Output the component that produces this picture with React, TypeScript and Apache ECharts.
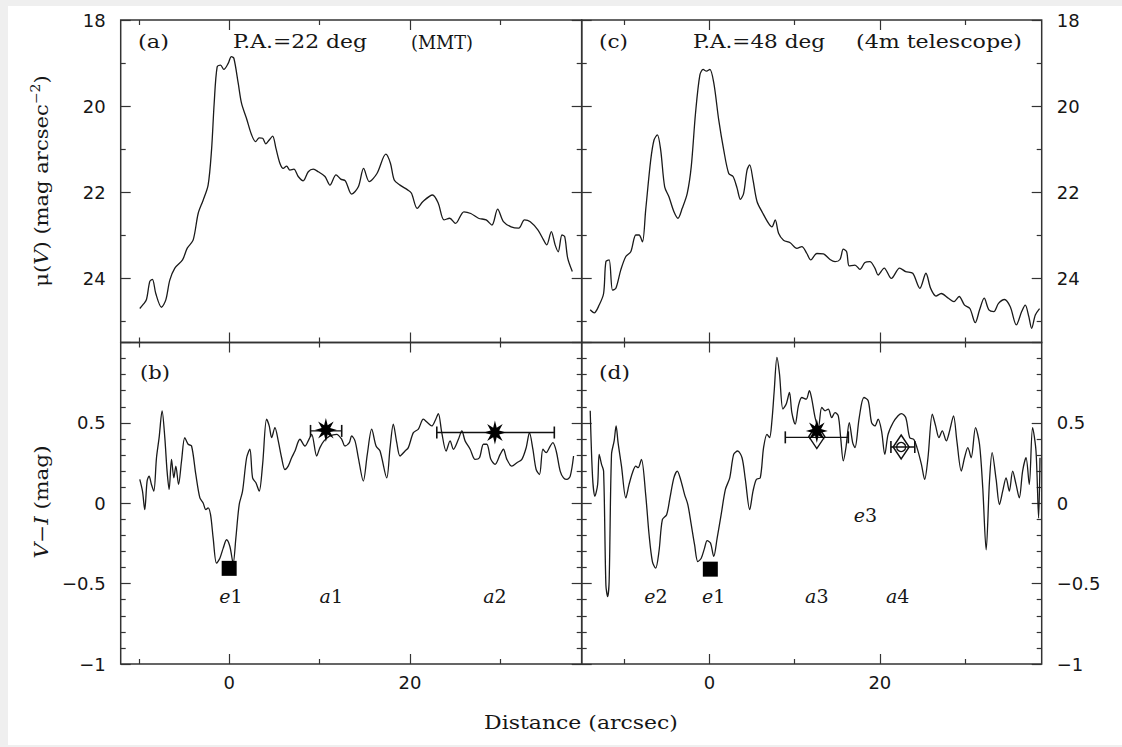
import React, { useEffect, useRef } from "react";
import * as echarts from "echarts";

// ---------- axis ranges & ticks ----------
const xRangeLeft = [-12, 39];
const xRangeRight = [-15, 39];
const muRange = [18, 25.5];
const colorRange = [-1, 1];

const xMajorTicks = [0, 20];
const xMinorTicks = [-10, 10, 30];
const muMajorTicks = [18, 20, 22, 24];
const muMinorTicks = [19, 21, 23, 25];
const colorMajorTicks = [-1, -0.5, 0, 0.5, 1];
const colorLabelTicks = [-1, -0.5, 0, 0.5];
const colorMinorTicks = [-0.9, -0.8, -0.7, -0.6, -0.4, -0.3, -0.2, -0.1, 0.1, 0.2, 0.3, 0.4, 0.6, 0.7, 0.8, 0.9];

// ---------- (a) surface brightness, P.A.=22 deg (MMT) ----------
const profileA: [number, number][] = [
  [-9.89, 24.71], [-9.49, 24.61], [-9.15, 24.5], [-8.78, 24.08], [-8.49, 24.03], [-8.12, 24.36], [-7.49, 24.68],
  [-7.01, 24.51], [-6.57, 24.05], [-6.01, 23.77], [-5.16, 23.58], [-4.65, 23.31], [-3.99, 23.12], [-3.43, 22.5],
  [-2.88, 22.19], [-2.33, 21.84], [-1.95, 21.02], [-1.66, 19.94], [-1.33, 19.09], [-0.95, 19.05], [-0.59, 19.15],
  [-0.11, 19.01], [0.24, 18.85], [0.52, 18.89], [1.0, 19.47], [1.37, 19.94], [1.92, 20.29], [2.48, 20.67],
  [2.92, 20.83], [3.32, 20.74], [3.7, 20.75], [4.06, 20.88], [4.43, 20.79], [4.81, 20.7], [5.17, 20.98],
  [5.61, 21.33], [5.98, 21.45], [6.36, 21.4], [6.72, 21.49], [7.16, 21.47], [7.64, 21.64], [8.19, 21.74],
  [8.75, 21.53], [9.3, 21.47], [9.86, 21.53], [10.6, 21.64], [11.15, 21.84], [11.82, 21.6], [12.34, 21.7],
  [12.85, 21.74], [13.55, 22.05], [14.29, 21.88], [14.87, 21.45], [15.5, 21.76], [16.35, 21.57], [17.33, 21.12],
  [17.84, 21.33], [18.26, 21.72], [18.9, 21.84], [19.74, 21.95], [20.17, 22.03], [20.8, 22.38], [21.44, 22.22],
  [22.5, 22.07], [23.13, 22.26], [23.77, 22.65], [24.4, 22.61], [25.04, 22.73], [25.97, 22.46], [26.73, 22.5],
  [27.58, 22.61], [28.43, 22.65], [29.07, 22.77], [29.7, 22.4], [30.34, 22.69], [31.19, 22.81], [32.03, 22.84],
  [32.67, 22.65], [33.31, 22.69], [34.15, 22.88], [34.79, 23.12], [35.13, 23.23], [35.64, 22.92], [36.06, 23.23],
  [36.4, 23.39], [36.82, 23.0], [37.12, 23.04], [37.45, 23.54], [37.96, 23.85],
];

// ---------- (c) surface brightness, P.A.=48 deg (4m telescope) ----------
const profileC: [number, number][] = [
  [-14.0, 24.74], [-13.53, 24.81], [-12.95, 24.63], [-12.43, 24.36], [-12.16, 23.62], [-11.78, 23.58], [-11.38, 24.28],
  [-10.99, 24.24], [-10.41, 23.81], [-9.82, 23.5], [-9.24, 23.39], [-8.65, 23.0], [-8.27, 23.0], [-7.87, 23.16],
  [-7.49, 22.42], [-6.9, 21.26], [-6.51, 20.79], [-6.12, 20.67], [-5.73, 21.02], [-5.26, 21.88], [-4.76, 22.11],
  [-4.17, 22.46], [-3.7, 22.61], [-3.2, 22.38], [-2.61, 22.03], [-2.14, 21.41], [-1.64, 20.17], [-1.13, 19.28],
  [-0.74, 19.15], [-0.35, 19.19], [0.04, 19.15], [0.51, 19.47], [1.09, 20.33], [1.67, 21.02], [2.26, 21.57],
  [2.77, 21.64], [3.24, 21.91], [3.63, 22.17], [4.01, 22.03], [4.41, 21.49], [4.72, 21.37], [5.11, 21.72],
  [5.58, 22.22], [6.28, 22.5], [6.94, 22.73], [7.33, 22.81], [7.72, 22.65], [8.11, 22.96], [8.69, 23.12],
  [9.47, 23.18], [10.26, 23.31], [10.84, 23.27], [11.43, 23.43], [11.89, 23.58], [12.6, 23.43], [13.37, 23.44],
  [14.15, 23.57], [14.74, 23.62], [15.32, 23.57], [15.71, 23.33], [16.1, 23.39], [16.41, 23.72], [17.08, 23.7],
  [17.66, 23.8], [18.25, 23.64], [18.83, 23.62], [19.42, 23.77], [19.8, 23.93], [20.51, 23.77], [21.35, 24.01],
  [22.32, 23.77], [23.03, 23.85], [23.86, 23.89], [24.7, 24.24], [25.41, 23.89], [25.96, 24.24], [26.59, 24.42],
  [27.21, 24.36], [28.05, 24.47], [28.69, 24.55], [29.31, 24.43], [29.94, 24.63], [30.57, 24.71], [31.2, 25.04],
  [31.71, 24.74], [32.25, 24.47], [32.8, 24.74], [33.38, 24.78], [33.93, 24.59], [34.64, 24.5], [35.31, 24.67],
  [36.02, 25.09], [36.65, 24.78], [37.07, 24.63], [37.49, 24.9], [37.82, 25.17], [38.25, 24.86], [38.75, 24.71],
];

// ---------- (b) V-I colour, P.A.=22 deg ----------
const colorB: [number, number][] = [
  [-9.89, 0.148], [-9.59, 0.075], [-9.34, -0.04], [-9.08, 0.138], [-8.86, 0.169], [-8.6, 0.117], [-8.34, 0.075],
  [-8.04, 0.283], [-7.75, 0.408], [-7.42, 0.575], [-7.12, 0.408], [-6.87, 0.2], [-6.64, 0.086], [-6.38, 0.273],
  [-6.12, 0.158], [-5.9, 0.231], [-5.6, 0.117], [-5.27, 0.263], [-4.91, 0.408], [-4.54, 0.367], [-4.16, 0.356],
  [-3.69, 0.179], [-3.24, 0.033], [-2.88, 0.002], [-2.58, -0.04], [-2.33, -0.029], [-2.06, -0.071], [-1.77, -0.217],
  [-1.4, -0.373], [-1.03, -0.342], [-0.66, -0.279], [-0.29, -0.227], [0.08, -0.269], [0.44, -0.373], [0.74, -0.217],
  [1.11, -0.008], [1.48, 0.075], [1.93, 0.283], [2.29, 0.336], [2.59, 0.158], [2.96, 0.127], [3.32, 0.075],
  [3.7, 0.242], [4.14, 0.523], [4.43, 0.481], [4.7, 0.408], [5.06, 0.471], [5.43, 0.388], [5.8, 0.283],
  [6.17, 0.21], [6.53, 0.231], [6.91, 0.283], [7.28, 0.325], [7.83, 0.398], [8.38, 0.356], [8.75, 0.388],
  [9.13, 0.429], [9.68, 0.294], [10.04, 0.346], [10.49, 0.388], [11.15, 0.419], [11.89, 0.429], [12.45, 0.398],
  [12.81, 0.356], [13.29, 0.377], [13.55, 0.419], [13.92, 0.388], [14.29, 0.283], [14.84, 0.138], [15.28, 0.304],
  [15.77, 0.461], [16.25, 0.356], [16.69, 0.325], [17.43, 0.158], [17.8, 0.346], [18.16, 0.492], [18.54, 0.377],
  [18.9, 0.294], [19.46, 0.325], [19.82, 0.346], [20.38, 0.439], [20.93, 0.461], [21.48, 0.523], [21.93, 0.502],
  [22.41, 0.481], [22.78, 0.513], [23.14, 0.558], [23.52, 0.439], [24.0, 0.325], [24.44, 0.388], [24.81, 0.336],
  [25.36, 0.398], [25.74, 0.45], [26.1, 0.388], [26.66, 0.336], [27.21, 0.273], [27.69, 0.283], [28.13, 0.367],
  [28.5, 0.367], [28.95, 0.273], [29.42, 0.242], [29.98, 0.304], [30.34, 0.336], [30.72, 0.273], [31.27, 0.231],
  [31.83, 0.252], [32.38, 0.273], [32.86, 0.346], [33.22, 0.439], [33.6, 0.336], [33.96, 0.21], [34.33, 0.179],
  [34.71, 0.336], [35.07, 0.315], [35.52, 0.356], [35.81, 0.377], [36.18, 0.325], [36.62, 0.2], [36.99, 0.158],
  [37.36, 0.148], [37.73, 0.169], [38.1, 0.294],
];

// ---------- (d) V-I colour, P.A.=48 deg ----------
const colorD: [number, number][] = [
  [-14.0, 0.575], [-13.72, 0.158], [-13.45, 0.044], [-13.13, 0.117], [-12.95, 0.304], [-12.67, 0.242], [-12.43, 0.2],
  [-12.16, -0.508], [-11.96, -0.581], [-11.78, -0.488], [-11.5, 0.304], [-11.19, 0.388], [-10.96, 0.481], [-10.73, 0.377],
  [-10.33, 0.231], [-9.82, 0.033], [-9.44, 0.117], [-9.04, 0.19], [-8.65, 0.231], [-8.38, 0.221], [-7.99, 0.273],
  [-7.49, 0.054], [-7.09, -0.196], [-6.7, -0.363], [-6.32, -0.404], [-5.93, -0.3], [-5.53, -0.102], [-5.03, -0.071],
  [-4.64, 0.033], [-4.18, 0.158], [-3.78, 0.2], [-3.39, 0.148], [-2.92, 0.054], [-2.54, -0.008], [-2.14, -0.133],
  [-1.75, -0.258], [-1.37, -0.363], [-0.97, -0.342], [-0.58, -0.279], [-0.27, -0.233], [0.12, -0.248], [0.5, -0.331],
  [0.9, -0.217], [1.37, -0.071], [1.87, 0.086], [2.38, 0.158], [2.84, 0.304], [3.31, 0.325], [3.82, 0.283],
  [4.21, 0.148], [4.72, -0.04], [5.11, 0.075], [5.5, 0.148], [5.96, 0.158], [6.35, 0.346], [6.75, 0.429],
  [7.05, 0.408], [7.33, 0.513], [7.6, 0.7], [7.92, 0.908], [8.22, 0.804], [8.62, 0.586], [9.01, 0.617],
  [9.39, 0.689], [9.67, 0.564], [10.06, 0.492], [10.44, 0.606], [10.84, 0.658], [11.35, 0.648], [11.73, 0.7],
  [12.01, 0.648], [12.4, 0.533], [12.78, 0.471], [13.18, 0.596], [13.57, 0.575], [13.95, 0.586], [14.35, 0.533],
  [14.74, 0.564], [15.12, 0.544], [15.4, 0.408], [15.71, 0.263], [16.02, 0.346], [16.41, 0.502], [16.81, 0.377],
  [17.08, 0.346], [17.58, 0.533], [18.13, 0.658], [18.63, 0.638], [19.03, 0.502], [19.42, 0.481], [19.8, 0.523],
  [20.2, 0.45], [20.58, 0.304], [20.97, 0.429], [21.56, 0.502], [22.14, 0.544], [22.54, 0.558], [23.04, 0.533],
  [23.51, 0.408], [23.98, 0.398], [24.36, 0.346], [24.88, 0.242], [25.26, 0.148], [25.65, 0.283], [26.16, 0.554],
  [26.55, 0.481], [26.94, 0.408], [27.33, 0.45], [27.8, 0.388], [28.19, 0.45], [28.65, 0.544], [29.04, 0.388],
  [29.56, 0.2], [29.94, 0.283], [30.33, 0.346], [30.72, 0.283], [31.23, 0.471], [31.7, 0.367], [32.08, 0.096],
  [32.48, -0.29], [32.87, 0.138], [33.18, 0.315], [33.65, 0.148], [34.04, -0.008], [34.42, 0.075], [34.82, 0.158],
  [35.2, 0.075], [35.59, 0.2], [35.99, 0.117], [36.37, 0.033], [36.76, 0.2], [37.16, 0.283], [37.54, 0.117],
  [37.93, 0.471], [38.33, 0.325], [38.64, -0.092], [38.8, 0.283],
];

// ---------- markers ----------
const squaresB: [number, number][] = [[0, -0.405]];
const squaresD: [number, number][] = [[0.1, -0.41]];
const starsB: [number, number][] = [[10.7, 0.456], [29.4, 0.44]];
const starsD: [number, number][] = [[12.6, 0.45]];
const diamondsD: [number, number][] = [[12.6, 0.415], [22.5, 0.35]];
const errorBarsB: [number, number, number][] = [[9.0, 12.45, 0.45], [22.97, 35.97, 0.44]]; // [from, to, y]
const errorBarsD: [number, number, number][] = [[8.9, 16.3, 0.41], [21.3, 24.1, 0.35]];

// ---------- region labels ----------
const regionLabelsB = [
  { name: "e1", x: 0.2, y: -0.58 },
  { name: "a1", x: 11.3, y: -0.58 },
  { name: "a2", x: 29.4, y: -0.58 },
];
const regionLabelsD = [
  { name: "e2", x: -6.3, y: -0.58 },
  { name: "e1", x: 0.5, y: -0.58 },
  { name: "a3", x: 12.6, y: -0.58 },
  { name: "a4", x: 22.1, y: -0.58 },
  { name: "e3", x: 18.3, y: -0.07 },
];

// ---------- styling ----------
const SANS = "DejaVu Sans";
const SERIF = "DejaVu Serif";
const INK = "#1a1a1a";
const TEXT = "#161616";
const FRAME = "#333";

const grids = [
  { left: 120.7, top: 20, width: 461, height: 322.5 }, // (a)
  { left: 581.7, top: 20, width: 460, height: 322.5 }, // (c)
  { left: 120.7, top: 342.5, width: 461, height: 321.5 }, // (b)
  { left: 581.7, top: 342.5, width: 460, height: 321.5 }, // (d)
];

const fmt = (v: number) => (v < 0 ? "\u2212" + Math.abs(v) : String(v));

function starPath(points: number, inner: number) {
  let d = "";
  for (let i = 0; i < points * 2; i++) {
    const r = i % 2 === 0 ? 1 : inner;
    const a = -Math.PI / 2 + (i * Math.PI) / points;
    d += (i ? "L" : "M") + (r * Math.cos(a)).toFixed(3) + " " + (r * Math.sin(a)).toFixed(3);
  }
  return "path://" + d + "Z";
}

// measure text to stretch the proportional font to the wide plotting font of the original
let measureCtx: CanvasRenderingContext2D | null = null;
function measure(text: string, size: number, family: string) {
  if (!measureCtx) measureCtx = document.createElement("canvas").getContext("2d");
  if (!measureCtx) return text.length * size * 0.6;
  measureCtx.font = `${size}px "${family}"`;
  return measureCtx.measureText(text).width;
}

const tickLine = { color: FRAME, width: 1.2 };
const labelStyle = { fontFamily: SANS, fontSize: 18, color: TEXT };

function xAxesFor(gridIndex: number, range: number[], showLabels: boolean) {
  const base = {
    type: "value",
    gridIndex,
    min: range[0],
    max: range[1],
    splitLine: { show: false },
    axisLine: { show: false, onZero: false },
  };
  const mk = (position: string, values: number[], length: number, labels: boolean) => ({
    ...base,
    position,
    axisTick: { show: true, inside: true, length, lineStyle: tickLine, customValues: values },
    axisLabel: labels
      ? { show: true, customValues: values, margin: 9, ...labelStyle }
      : { show: false, customValues: values },
  });
  return [
    mk("bottom", xMajorTicks, 10, showLabels),
    mk("bottom", xMinorTicks, 5, false),
    mk("top", xMajorTicks, 10, false),
    mk("top", xMinorTicks, 5, false),
  ];
}

function yAxesFor(
  gridIndex: number,
  range: number[],
  inverse: boolean,
  major: number[],
  minor: number[],
  labels: number[],
  labelSide: string
) {
  const base = {
    type: "value",
    gridIndex,
    min: range[0],
    max: range[1],
    inverse,
    splitLine: { show: false },
    axisLine: { show: false, onZero: false },
  };
  const mk = (position: string, values: number[], length: number, withLabels: boolean) => ({
    ...base,
    position,
    axisTick: { show: true, inside: true, length, lineStyle: tickLine, customValues: values },
    axisLabel: withLabels
      ? { show: true, customValues: labels, margin: 15, formatter: fmt, ...labelStyle }
      : { show: false, customValues: values },
  });
  return [
    mk("left", major, 10, labelSide === "left"),
    mk("left", minor, 5, false),
    mk("right", major, 10, labelSide === "right"),
    mk("right", minor, 5, false),
  ];
}

const nameRich = {
  n: { fontFamily: SERIF, fontSize: 18, fill: TEXT, lineHeight: 24 },
  i: { fontFamily: SERIF, fontSize: 18, fontStyle: "italic", fill: TEXT, lineHeight: 24 },
  sup: { fontFamily: SERIF, fontSize: 12, fill: TEXT, lineHeight: 24, verticalAlign: "top", padding: [0, 0, 10, 0] },
};

function buildOption() {
  const xAxis = [
    ...xAxesFor(0, xRangeLeft, false),
    ...xAxesFor(1, xRangeRight, false),
    ...xAxesFor(2, xRangeLeft, true),
    ...xAxesFor(3, xRangeRight, true),
  ];
  const yAxis = [
    ...yAxesFor(0, muRange, true, muMajorTicks, muMinorTicks, muMajorTicks, "left"),
    ...yAxesFor(1, muRange, true, muMajorTicks, muMinorTicks, muMajorTicks, "right"),
    ...yAxesFor(2, colorRange, false, colorMajorTicks, colorMinorTicks, colorLabelTicks, "left"),
    ...yAxesFor(3, colorRange, false, colorMajorTicks, colorMinorTicks, colorLabelTicks, "right"),
  ];

  const ax = (p: number) => ({ xAxisIndex: p * 4, yAxisIndex: p * 4 });
  const curve = (data: [number, number][], p: number) => ({
    type: "line",
    ...ax(p),
    data,
    symbol: "none",
    smooth: 0.3,
    lineStyle: { color: INK, width: 1.3 },
    z: 3,
  });
  const errorBars = (bars: [number, number, number][], p: number) =>
    bars.map((b) => ({
      type: "line",
      ...ax(p),
      data: [[b[0], b[2]], [b[1], b[2]]],
      symbol: "rect",
      symbolSize: [1.6, 12],
      showAllSymbol: true,
      itemStyle: { color: "#111" },
      lineStyle: { color: "#111", width: 1.4 },
      z: 4,
    }));
  const star = starPath(8, 0.42);
  const labelSeries = (items: { name: string; x: number; y: number }[], p: number) => ({
    type: "scatter",
    ...ax(p),
    symbolSize: 1,
    itemStyle: { color: "rgba(0,0,0,0)", opacity: 1 },
    data: items.map((d) => ({ name: d.name, value: [d.x, d.y] })),
    label: {
      show: true,
      position: "inside",
      opacity: 1,
      formatter: (pr: any) => `{i|${pr.name[0]}}{n|${pr.name.slice(1)}}`,
      rich: {
        i: { fontFamily: SERIF, fontStyle: "italic", fontSize: 19, color: TEXT },
        n: { fontFamily: SERIF, fontSize: 19, color: TEXT },
      },
    },
    z: 5,
  });
  const solid = { color: "#000", opacity: 1 };
  const hollow = { color: "rgba(255,255,255,0)", borderColor: "#111", opacity: 1 };

  const series: any[] = [
    curve(profileA, 0),
    curve(profileC, 1),
    curve(colorB, 2),
    curve(colorD, 3),
    ...errorBars(errorBarsB, 2),
    ...errorBars(errorBarsD, 3),
    { type: "scatter", ...ax(2), data: squaresB, symbol: "rect", symbolSize: 15, itemStyle: solid, z: 6 },
    { type: "scatter", ...ax(3), data: squaresD, symbol: "rect", symbolSize: 15, itemStyle: solid, z: 6 },
    {
      type: "scatter", ...ax(3), data: diamondsD, symbol: "diamond", symbolSize: [16, 24],
      itemStyle: { ...hollow, borderWidth: 1.5 }, z: 6,
    },
    {
      type: "scatter", ...ax(3), data: diamondsD.slice(1), symbol: "circle", symbolSize: 9,
      itemStyle: { ...hollow, borderWidth: 1.3 }, z: 6,
    },
    { type: "scatter", ...ax(2), data: starsB, symbol: star, symbolSize: [22, 24], itemStyle: solid, z: 7 },
    { type: "scatter", ...ax(3), data: starsD, symbol: star, symbolSize: [22, 24], itemStyle: solid, z: 7 },
    labelSeries(regionLabelsB, 2),
    labelSeries(regionLabelsD, 3),
  ];

  // panel annotations stretched to the width of the original's wide plotting font
  const fitted = (text: string, x: number, y: number, width: number, align = "left") => {
    const w = measure(text, 18, SERIF);
    return {
      type: "text",
      x,
      y,
      scaleX: w > 0 ? width / w : 1,
      silent: true,
      style: { text, fontFamily: SERIF, fontSize: 18, fill: TEXT, align, verticalAlign: "middle" },
    };
  };

  const rotatedName = (text: string, x: number, y: number, scale: number) => ({
    type: "text",
    x,
    y,
    rotation: Math.PI / 2,
    scaleX: scale,
    silent: true,
    style: {
      text,
      fontFamily: SERIF,
      fontSize: 18,
      fill: TEXT,
      align: "center",
      verticalAlign: "middle",
      rich: nameRich,
    },
  });

  return {
    animation: false,
    backgroundColor: "transparent",
    grid: grids.map((g) => ({
      ...g,
      show: true,
      borderColor: FRAME,
      borderWidth: 1.5,
      backgroundColor: "transparent",
      containLabel: false,
      outerBoundsMode: "none",
    })),
    xAxis,
    yAxis,
    series,
    graphic: [
      fitted("(a)", 138, 42, 31),
      fitted("P.A.=22 deg", 233, 42, 134),
      fitted("(MMT)", 411, 42, 62),
      fitted("(c)", 599, 42, 29),
      fitted("P.A.=48 deg", 693, 42, 132),
      fitted("(4m telescope)", 856, 42, 166),
      fitted("(b)", 140, 373, 30),
      fitted("(d)", 599, 373, 31),
      fitted("Distance (arcsec)", 581, 723, 194, "center"),
      rotatedName("{n|\u03bc(}{i|V}{n|) (mag arcsec}{sup|\u22122}{n|)}", 42, 181, 1.17),
      rotatedName("{i|V}{n|\u2212}{i|I}{n| (mag)}", 42, 502, 1.2),
    ],
  };
}

export default function App() {
  const ref = useRef<HTMLDivElement>(null);
  useEffect(() => {
    const chart = echarts.init(ref.current as HTMLDivElement, null, { renderer: "svg" });
    chart.setOption(buildOption() as any);
    return () => chart.dispose();
  }, []);
  return (
    <div style={{ position: "fixed", left: 0, top: 0, width: 1122, height: 747, background: "#efefef" }}>
      <div style={{ position: "absolute", left: 8, top: 6, width: 1114, height: 739, background: "#ffffff" }} />
      <div ref={ref} style={{ position: "absolute", left: 0, top: 0, width: 1122, height: 747 }} />
    </div>
  );
}
